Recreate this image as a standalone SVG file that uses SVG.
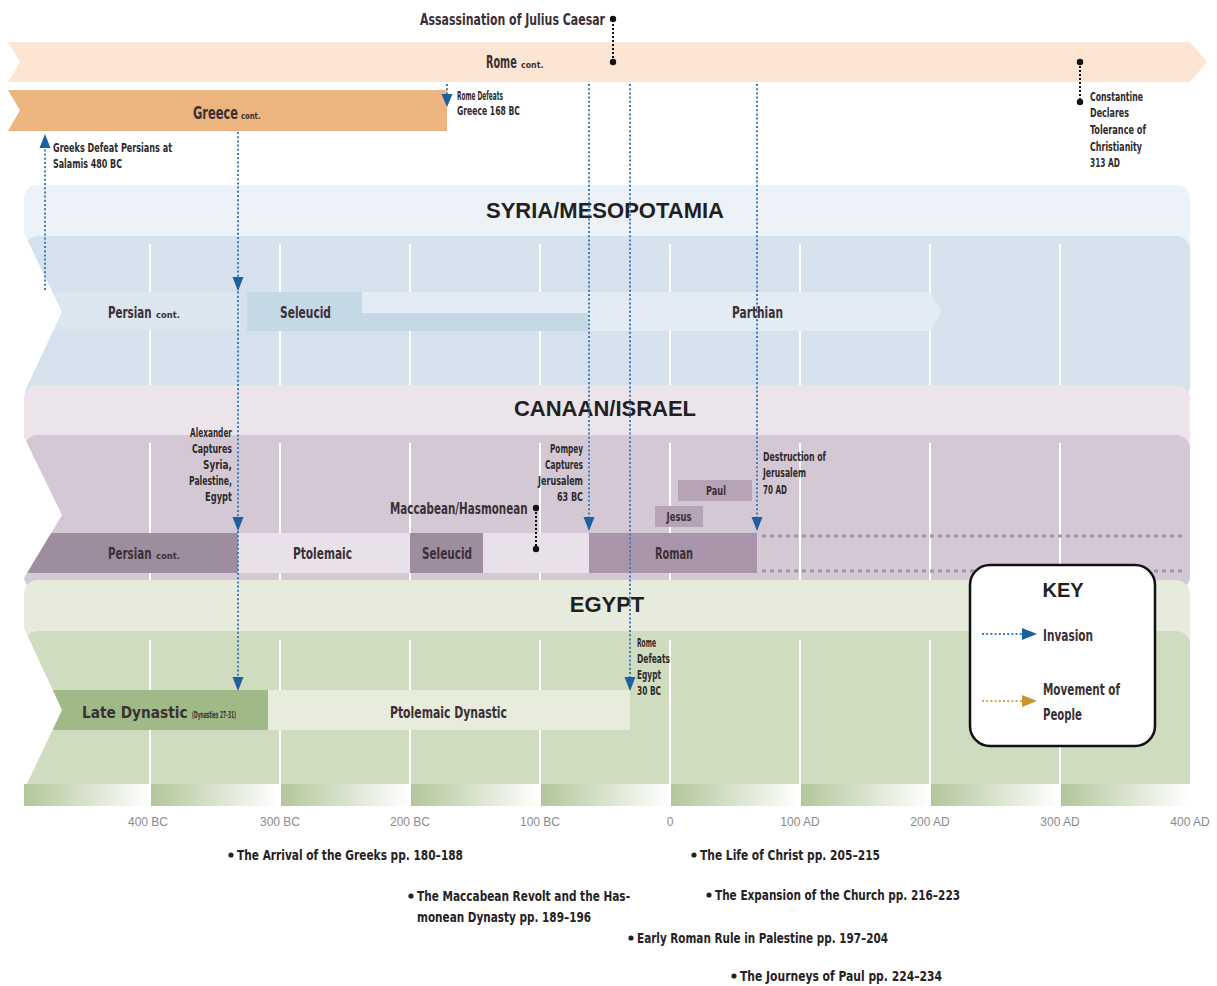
<svg xmlns="http://www.w3.org/2000/svg" width="1217" height="986" viewBox="0 0 1217 986">
<defs>
<style>
.n{font-family:"Liberation Sans Narrow","DejaVu Sans Condensed","Liberation Sans",sans-serif;font-weight:700;font-stretch:condensed;fill:#3a3036}
.ev{font-size:11.5px;fill:#2e2a2c}
.bar{font-size:16px}
.sm{font-size:9.5px}
.ttl{font-family:"Liberation Sans",Arial,sans-serif;font-weight:700;font-size:22px;fill:#231f20;text-anchor:middle}
.ax{font-family:"Liberation Sans Narrow","Liberation Sans",sans-serif;font-size:12px;fill:#8a8a8a;text-anchor:middle}
.ref{font-size:14px;fill:#262224}
.vl{stroke:#ffffff;stroke-width:2}
.inv{stroke:#3b7fc0;stroke-width:2;stroke-dasharray:2 2.2;fill:none}
.ah{fill:#1e5f9f}
.blk{stroke:#111;stroke-width:2;stroke-dasharray:2 2;fill:none}
.dot{fill:#111}
.rdots{stroke:#a493a6;stroke-width:3;stroke-dasharray:4 4;fill:none}
</style>
<linearGradient id="gb" x1="0" y1="0" x2="1" y2="0">
<stop offset="0" stop-color="#b2c69a"/>
<stop offset="1" stop-color="#ffffff"/>
</linearGradient>
</defs>
<rect width="1217" height="986" fill="#ffffff"/>

<g id="rome">
<polygon points="8,42 1190,42 1207,62 1190,82 8,82 20,62" fill="#fce6d3"/>
<text class="n" transform="translate(486 68) scale(0.75 1)" font-size="17" textLength="41" lengthAdjust="spacingAndGlyphs">Rome</text>
<text class="n sm" transform="translate(521 68) scale(0.8 1)" textLength="28" lengthAdjust="spacingAndGlyphs">cont.</text>
</g>
<g id="greece">
<polygon points="8,90 447,90 447,131 8,131 20,110.5" fill="#ecb47e"/>
<text class="n" transform="translate(193 119) scale(0.75 1)" font-size="17" textLength="60" lengthAdjust="spacingAndGlyphs">Greece</text>
<text class="n sm" transform="translate(241 119) scale(0.75 1)" textLength="26" lengthAdjust="spacingAndGlyphs">cont.</text>
</g>

<g id="syria">
<rect x="24" y="185" width="1166" height="215" rx="14" fill="#edf2f8"/>
<rect x="24" y="236" width="1166" height="164" rx="14" fill="#d5e1ed"/>
<text class="ttl" x="605" y="218">SYRIA/MESOPOTAMIA</text>
<g class="vl"><line x1="150" y1="244" x2="150" y2="388"/><line x1="280" y1="244" x2="280" y2="388"/><line x1="410" y1="244" x2="410" y2="388"/><line x1="540" y1="244" x2="540" y2="388"/><line x1="670" y1="244" x2="670" y2="388"/><line x1="800" y1="244" x2="800" y2="388"/><line x1="930" y1="244" x2="930" y2="388"/><line x1="1060" y1="244" x2="1060" y2="388"/></g>
<rect x="22" y="292" width="218" height="39" fill="#dbe6f0"/>
<polygon points="362,292 930,292 942,311.5 930,331 362,331" fill="#e3ecf4"/>
<polygon points="247,292 362,292 362,313 588,313 588,331 247,331" fill="#c5d8e5"/>
<text class="n bar" transform="translate(108 318) scale(0.75 1)" textLength="58" lengthAdjust="spacingAndGlyphs">Persian</text>
<text class="n sm" transform="translate(156 318) scale(0.8 1)" textLength="30" lengthAdjust="spacingAndGlyphs">cont.</text>
<text class="n bar" x="280" y="318" textLength="51" lengthAdjust="spacingAndGlyphs">Seleucid</text>
<text class="n bar" x="732" y="318" textLength="51" lengthAdjust="spacingAndGlyphs">Parthian</text>
<polygon points="0,233 24,233 62,312 24,393 0,393" fill="#ffffff"/>
</g>

<g id="canaan">
<rect x="24" y="385" width="1166" height="205" rx="14" fill="#ebe4ea"/>
<rect x="24" y="435" width="1166" height="155" rx="14" fill="#d4c8d4"/>
<text class="ttl" x="605" y="416">CANAAN/ISRAEL</text>
<g class="vl"><line x1="150" y1="443" x2="150" y2="584"/><line x1="280" y1="443" x2="280" y2="584"/><line x1="410" y1="443" x2="410" y2="584"/><line x1="540" y1="443" x2="540" y2="584"/><line x1="670" y1="443" x2="670" y2="584"/><line x1="800" y1="443" x2="800" y2="584"/><line x1="930" y1="443" x2="930" y2="584"/><line x1="1060" y1="443" x2="1060" y2="584"/></g>
<rect x="22" y="533" width="216" height="40" fill="#9e8c9f"/>
<rect x="238" y="533" width="172" height="40" fill="#e9e1e9"/>
<rect x="410" y="533" width="73" height="40" fill="#9e8c9f"/>
<rect x="483" y="533" width="106" height="40" fill="#e9e1e9"/>
<rect x="589" y="533" width="168" height="40" fill="#a995a9"/>
<line class="rdots" x1="762" y1="536" x2="1185" y2="536"/>
<line class="rdots" x1="762" y1="571" x2="1185" y2="571"/>
<rect x="655" y="506" width="48" height="21" fill="#b6a3b6"/>
<rect x="678" y="480" width="74" height="21" fill="#b6a3b6"/>
<text class="n" x="679" y="521" font-size="12" text-anchor="middle" textLength="25" lengthAdjust="spacingAndGlyphs">Jesus</text>
<text class="n" x="716" y="495" font-size="12" text-anchor="middle" textLength="20" lengthAdjust="spacingAndGlyphs">Paul</text>
<text class="n bar" transform="translate(108 559) scale(0.75 1)" textLength="58" lengthAdjust="spacingAndGlyphs">Persian</text>
<text class="n sm" transform="translate(156 559) scale(0.8 1)" textLength="30" lengthAdjust="spacingAndGlyphs">cont.</text>
<text class="n bar" x="293" y="559" textLength="59" lengthAdjust="spacingAndGlyphs">Ptolemaic</text>
<text class="n bar" x="422" y="559" textLength="50" lengthAdjust="spacingAndGlyphs">Seleucid</text>
<text class="n bar" x="655" y="559" textLength="38" lengthAdjust="spacingAndGlyphs">Roman</text>
<polygon points="0,437 24,437 62,515 24,578 0,578" fill="#ffffff"/>
</g>

<g id="egypt">
<rect x="24" y="580" width="1166" height="210" rx="14" fill="#e7ebdd"/>
<path d="M24,645 a14,14 0 0 1 14,-14 H1176 a14,14 0 0 1 14,14 V784 H24 Z" fill="#d0dcbf"/>
<text class="ttl" x="607" y="612">EGYPT</text>
<g class="vl"><line x1="150" y1="640" x2="150" y2="808"/><line x1="280" y1="640" x2="280" y2="808"/><line x1="410" y1="640" x2="410" y2="808"/><line x1="540" y1="640" x2="540" y2="808"/><line x1="670" y1="640" x2="670" y2="808"/><line x1="800" y1="640" x2="800" y2="808"/><line x1="930" y1="640" x2="930" y2="808"/><line x1="1060" y1="640" x2="1060" y2="808"/></g>
<rect x="22" y="690" width="246" height="40" fill="#a0ba87"/>
<rect x="268" y="690" width="362" height="40" fill="#e7ecdd"/>
<text class="n bar" transform="translate(82 718) scale(0.8 1)" textLength="132" lengthAdjust="spacingAndGlyphs">Late Dynastic</text>
<text class="n sm" transform="translate(192 718) scale(0.55 1)" textLength="80" lengthAdjust="spacingAndGlyphs">(Dynasties 27-31)</text>
<text class="n bar" x="390" y="718" textLength="117" lengthAdjust="spacingAndGlyphs">Ptolemaic Dynastic</text>
<polygon points="0,628 24,628 62,710 24,790 0,790" fill="#ffffff"/>
</g>

<g id="axis">
<rect x="24" y="784" width="125" height="22" fill="url(#gb)"/>
<rect x="151" y="784" width="128" height="22" fill="url(#gb)"/>
<rect x="281" y="784" width="128" height="22" fill="url(#gb)"/>
<rect x="411" y="784" width="128" height="22" fill="url(#gb)"/>
<rect x="541" y="784" width="128" height="22" fill="url(#gb)"/>
<rect x="671" y="784" width="128" height="22" fill="url(#gb)"/>
<rect x="801" y="784" width="128" height="22" fill="url(#gb)"/>
<rect x="931" y="784" width="128" height="22" fill="url(#gb)"/>
<rect x="1061" y="784" width="128" height="22" fill="url(#gb)"/>
<text class="ax" x="148" y="826">400 BC</text>
<text class="ax" x="280" y="826">300 BC</text>
<text class="ax" x="410" y="826">200 BC</text>
<text class="ax" x="540" y="826">100 BC</text>
<text class="ax" x="670" y="826">0</text>
<text class="ax" x="800" y="826">100 AD</text>
<text class="ax" x="930" y="826">200 AD</text>
<text class="ax" x="1060" y="826">300 AD</text>
<text class="ax" x="1190" y="826">400 AD</text>
</g>

<g id="events">
<text class="n" x="420" y="25" font-size="15" textLength="185" lengthAdjust="spacingAndGlyphs">Assassination of Julius Caesar</text>
<text class="n ev" x="457" y="100" textLength="46" lengthAdjust="spacingAndGlyphs">Rome Defeats</text>
<text class="n ev" x="457" y="115" textLength="63" lengthAdjust="spacingAndGlyphs">Greece 168 BC</text>
<text class="n ev" x="53" y="152" textLength="119" lengthAdjust="spacingAndGlyphs">Greeks Defeat Persians at</text>
<text class="n ev" x="53" y="168" textLength="69" lengthAdjust="spacingAndGlyphs">Salamis 480 BC</text>
<text class="n ev" x="1090" y="101" textLength="53" lengthAdjust="spacingAndGlyphs">Constantine</text>
<text class="n ev" x="1090" y="117" textLength="39" lengthAdjust="spacingAndGlyphs">Declares</text>
<text class="n ev" x="1090" y="134" textLength="56" lengthAdjust="spacingAndGlyphs">Tolerance of</text>
<text class="n ev" x="1090" y="151" textLength="52" lengthAdjust="spacingAndGlyphs">Christianity</text>
<text class="n ev" x="1090" y="167" textLength="30" lengthAdjust="spacingAndGlyphs">313 AD</text>
<g text-anchor="end">
<text class="n ev" x="232" y="437" textLength="42" lengthAdjust="spacingAndGlyphs">Alexander</text>
<text class="n ev" x="232" y="453" textLength="40" lengthAdjust="spacingAndGlyphs">Captures</text>
<text class="n ev" x="232" y="469" textLength="29" lengthAdjust="spacingAndGlyphs">Syria,</text>
<text class="n ev" x="232" y="485" textLength="43" lengthAdjust="spacingAndGlyphs">Palestine,</text>
<text class="n ev" x="232" y="501" textLength="27" lengthAdjust="spacingAndGlyphs">Egypt</text>
<text class="n ev" x="583" y="453" textLength="33" lengthAdjust="spacingAndGlyphs">Pompey</text>
<text class="n ev" x="583" y="469" textLength="38" lengthAdjust="spacingAndGlyphs">Captures</text>
<text class="n ev" x="583" y="485" textLength="45" lengthAdjust="spacingAndGlyphs">Jerusalem</text>
<text class="n ev" x="583" y="501" textLength="26" lengthAdjust="spacingAndGlyphs">63 BC</text>
</g>
<text class="n" transform="translate(390 514) scale(0.8 1)" font-size="16" textLength="172" lengthAdjust="spacingAndGlyphs">Maccabean/Hasmonean</text>
<text class="n ev" x="763" y="461" textLength="63" lengthAdjust="spacingAndGlyphs">Destruction of</text>
<text class="n ev" x="763" y="477" textLength="43" lengthAdjust="spacingAndGlyphs">Jerusalem</text>
<text class="n ev" x="763" y="494" textLength="24" lengthAdjust="spacingAndGlyphs">70 AD</text>
<text class="n ev" x="637" y="647" textLength="19" lengthAdjust="spacingAndGlyphs">Rome</text>
<text class="n ev" x="637" y="663" textLength="33" lengthAdjust="spacingAndGlyphs">Defeats</text>
<text class="n ev" x="637" y="679" textLength="24" lengthAdjust="spacingAndGlyphs">Egypt</text>
<text class="n ev" x="637" y="695" textLength="24" lengthAdjust="spacingAndGlyphs">30 BC</text>
</g>

<g id="connectors">
<line class="blk" x1="613" y1="20" x2="613" y2="62"/>
<circle class="dot" cx="613" cy="19" r="3.2"/><circle class="dot" cx="613" cy="62" r="3.2"/>
<line class="blk" x1="1080" y1="62" x2="1080" y2="102"/>
<circle class="dot" cx="1080" cy="62" r="3.2"/><circle class="dot" cx="1080" cy="102" r="3.2"/>
<line class="blk" x1="536" y1="508" x2="536" y2="549"/>
<circle class="dot" cx="536" cy="508" r="3.2"/><circle class="dot" cx="536" cy="549" r="3.2"/>

<line class="inv" x1="45" y1="290" x2="45" y2="146"/>
<polygon class="ah" points="39.5,148 45,134 50.5,148"/>
<line class="inv" x1="447" y1="84" x2="447" y2="96"/>
<polygon class="ah" points="441.5,94 447,107 452.5,94"/>
<line class="inv" x1="238" y1="132" x2="238" y2="680"/>
<polygon class="ah" points="232.5,277 238,291 243.5,277"/>
<polygon class="ah" points="232.5,517 238,531 243.5,517"/>
<polygon class="ah" points="232.5,677 238,691 243.5,677"/>
<line class="inv" x1="589" y1="84" x2="589" y2="520"/>
<polygon class="ah" points="583.5,517 589,531 594.5,517"/>
<line class="inv" x1="630" y1="84" x2="630" y2="680"/>
<polygon class="ah" points="624.5,677 630,691 635.5,677"/>
<line class="inv" x1="757" y1="84" x2="757" y2="520"/>
<polygon class="ah" points="751.5,517 757,531 762.5,517"/>
</g>

<g id="key">
<rect x="970" y="565" width="185" height="181" rx="20" fill="#ffffff" stroke="#111" stroke-width="2.5"/>
<text x="1063" y="597" font-family="Liberation Sans, Arial, sans-serif" font-weight="700" font-size="20" fill="#231f20" text-anchor="middle">KEY</text>
<line class="inv" x1="982" y1="634" x2="1024" y2="634"/>
<polygon class="ah" points="1022,628 1037,634 1022,640"/>
<text class="n" x="1043" y="641" font-size="16" textLength="50" lengthAdjust="spacingAndGlyphs">Invasion</text>
<line x1="982" y1="701" x2="1024" y2="701" stroke="#d4a84a" stroke-width="2" stroke-dasharray="2 2.2"/>
<polygon points="1022,695 1037,701 1022,707" fill="#c8952a"/>
<text class="n" x="1043" y="695" font-size="16" textLength="77" lengthAdjust="spacingAndGlyphs">Movement of</text>
<text class="n" x="1043" y="720" font-size="16" textLength="39" lengthAdjust="spacingAndGlyphs">People</text>
</g>

<g id="refs">
<circle cx="231" cy="855" r="2.6" fill="#262224"/>
<text class="n ref" x="237" y="860" textLength="226" lengthAdjust="spacingAndGlyphs">The Arrival of the Greeks pp. 180–188</text>
<circle cx="694" cy="855" r="2.6" fill="#262224"/>
<text class="n ref" x="700" y="860" textLength="180" lengthAdjust="spacingAndGlyphs">The Life of Christ pp. 205–215</text>
<circle cx="411" cy="896" r="2.6" fill="#262224"/>
<text class="n ref" x="417" y="901" textLength="213" lengthAdjust="spacingAndGlyphs">The Maccabean Revolt and the Has-</text>
<text class="n ref" x="417" y="922" textLength="174" lengthAdjust="spacingAndGlyphs">monean Dynasty pp. 189–196</text>
<circle cx="709" cy="895" r="2.6" fill="#262224"/>
<text class="n ref" x="715" y="900" textLength="245" lengthAdjust="spacingAndGlyphs">The Expansion of the Church pp. 216–223</text>
<circle cx="631" cy="938" r="2.6" fill="#262224"/>
<text class="n ref" x="637" y="943" textLength="251" lengthAdjust="spacingAndGlyphs">Early Roman Rule in Palestine pp. 197–204</text>
<circle cx="734" cy="976" r="2.6" fill="#262224"/>
<text class="n ref" x="740" y="981" textLength="202" lengthAdjust="spacingAndGlyphs">The Journeys of Paul pp. 224–234</text>
</g>
</svg>
